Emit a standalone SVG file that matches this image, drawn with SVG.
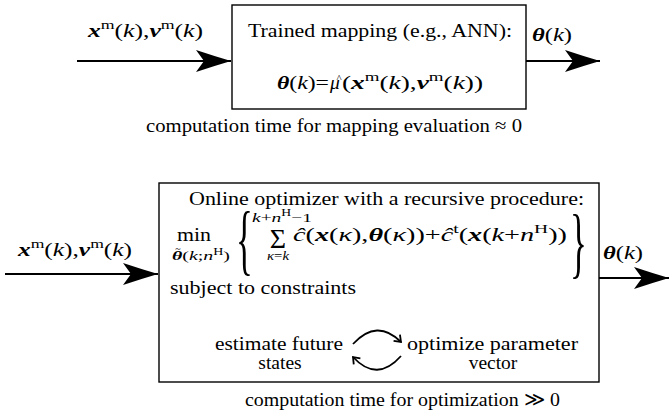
<svg xmlns="http://www.w3.org/2000/svg" width="669" height="412" viewBox="0 0 669 412" font-size="19.5">
<defs>
<marker id="big" markerUnits="userSpaceOnUse" markerWidth="40" markerHeight="26" refX="0" refY="0" viewBox="-38 -13 40 26" orient="auto" overflow="visible">
<path d="M0,0 Q-17,-5 -35,-11 L-27,0 L-35,11 Q-17,5 0,0 Z" fill="#000"/>
</marker>
<marker id="chev" markerUnits="userSpaceOnUse" markerWidth="12" markerHeight="12" viewBox="-8 -6 10 12" refX="0" refY="0" orient="auto" overflow="visible">
<path d="M-6,-4.5 L0,0 L-6,4.5" fill="none" stroke="#000" stroke-width="1.8"/>
</marker>
</defs>

<g id="connectors" stroke="#000" stroke-width="1.8" fill="none">
<line x1="77" y1="61" x2="231" y2="61" marker-end="url(#big)"/>
<line x1="526" y1="61" x2="600" y2="61" marker-end="url(#big)"/>
<line x1="5" y1="274" x2="158" y2="274" marker-end="url(#big)"/>
<line x1="599" y1="278" x2="669" y2="278" marker-end="url(#big)"/>
</g>

<g id="mapping">
<rect x="232" y="5" width="294" height="104" fill="#fff" stroke="#000" stroke-width="1.4"/>
<text font-family="Liberation Serif" x="248" y="37" textLength="264" lengthAdjust="spacingAndGlyphs">Trained mapping (e.g., ANN):</text>
<text font-family="Liberation Serif" x="277" y="89" textLength="52" lengthAdjust="spacingAndGlyphs"><tspan font-style="italic" font-weight="bold">θ</tspan>(<tspan font-style="italic">k</tspan>)=</text>
<text font-family="Liberation Serif" x="330" y="89" font-style="italic">μ</text>
<text font-family="Liberation Serif" x="339" y="82" font-size="11" text-anchor="middle">^</text>
<text font-family="Liberation Serif" x="342" y="89" textLength="141" lengthAdjust="spacingAndGlyphs">(<tspan font-style="italic" font-weight="bold">x</tspan><tspan font-size="13.5" dy="-8">m</tspan><tspan dy="8">(</tspan><tspan font-style="italic">k</tspan>),<tspan font-style="italic" font-weight="bold">ν</tspan><tspan font-size="13.5" dy="-8">m</tspan><tspan dy="8">(</tspan><tspan font-style="italic">k</tspan>))</text>
</g>

<g id="mapping-labels">
<text font-family="Liberation Serif" x="88" y="37" textLength="115" lengthAdjust="spacingAndGlyphs"><tspan font-style="italic" font-weight="bold">x</tspan><tspan font-size="13.5" dy="-8">m</tspan><tspan dy="8">(</tspan><tspan font-style="italic">k</tspan>),<tspan font-style="italic" font-weight="bold">ν</tspan><tspan font-size="13.5" dy="-8">m</tspan><tspan dy="8">(</tspan><tspan font-style="italic">k</tspan>)</text>
<text font-family="Liberation Serif" x="532" y="41" textLength="40" lengthAdjust="spacingAndGlyphs"><tspan font-style="italic" font-weight="bold">θ</tspan>(<tspan font-style="italic">k</tspan>)</text>
<text font-family="Liberation Serif" x="146" y="132" textLength="376" lengthAdjust="spacingAndGlyphs">computation time for mapping evaluation ≈ 0</text>
</g>

<g id="optimizer">
<rect x="159" y="183" width="440" height="199" fill="#fff" stroke="#000" stroke-width="1.4"/>
<text font-family="Liberation Serif" x="189" y="205" textLength="395" lengthAdjust="spacingAndGlyphs">Online optimizer with a recursive procedure:</text>
<text font-family="Liberation Serif" x="177" y="241" textLength="34" lengthAdjust="spacingAndGlyphs">min</text>
<text font-family="Liberation Serif" x="172" y="260" font-size="13.5" textLength="58" lengthAdjust="spacingAndGlyphs"><tspan font-style="italic" font-weight="bold">θ</tspan>(<tspan font-style="italic">k</tspan>;<tspan font-style="italic">n</tspan><tspan dy="-5" font-size="9.5">H</tspan><tspan dy="5">)</tspan></text>
<text font-family="Liberation Serif" x="178" y="252" font-size="10" text-anchor="middle">~</text>
<text font-family="Liberation Serif" font-size="78" transform="translate(236,266) scale(0.45,1)">{</text>
<text font-family="Liberation Serif" x="252" y="222" font-size="13.5" textLength="60" lengthAdjust="spacingAndGlyphs"><tspan font-style="italic">k</tspan>+<tspan font-style="italic">n</tspan><tspan dy="-6" font-size="9.5">H</tspan><tspan dy="6">−1</tspan></text>
<text font-family="Liberation Serif" x="278" y="248" font-size="28" text-anchor="middle">Σ</text>
<text font-family="Liberation Serif" x="267" y="260" font-size="13.5" textLength="22" lengthAdjust="spacingAndGlyphs"><tspan font-style="italic">κ</tspan>=<tspan font-style="italic">k</tspan></text>
<text font-family="Liberation Serif" x="293" y="241" textLength="274" lengthAdjust="spacingAndGlyphs"><tspan font-style="italic">ĉ</tspan>(<tspan font-style="italic" font-weight="bold">x</tspan>(<tspan font-style="italic">κ</tspan>),<tspan font-style="italic" font-weight="bold">θ</tspan>(<tspan font-style="italic">κ</tspan>))+<tspan font-style="italic">ĉ</tspan><tspan font-size="13.5" dy="-8">t</tspan><tspan dy="8">(</tspan><tspan font-style="italic" font-weight="bold">x</tspan>(<tspan font-style="italic">k</tspan>+<tspan font-style="italic">n</tspan><tspan font-size="13.5" dy="-8">H</tspan><tspan dy="8">))</tspan></text>
<text font-family="Liberation Serif" font-size="78" transform="translate(570,269) scale(0.45,1)">}</text>
<text font-family="Liberation Serif" x="170" y="294" textLength="186" lengthAdjust="spacingAndGlyphs">subject to constraints</text>
<text font-family="Liberation Serif" x="215" y="350" textLength="128" lengthAdjust="spacingAndGlyphs">estimate future</text>
<text font-family="Liberation Serif" x="280" y="369" text-anchor="middle">states</text>
<text font-family="Liberation Serif" x="407" y="350" textLength="171" lengthAdjust="spacingAndGlyphs">optimize parameter</text>
<text font-family="Liberation Serif" x="493" y="369" text-anchor="middle">vector</text>
<path d="M353,344 Q377,318 401,342" stroke="#000" stroke-width="1.8" fill="none" marker-end="url(#chev)"/>
<path d="M401,356 Q377,383 353,357" stroke="#000" stroke-width="1.8" fill="none" marker-end="url(#chev)"/>
</g>

<g id="optimizer-labels">
<text font-family="Liberation Serif" x="18" y="256" textLength="114" lengthAdjust="spacingAndGlyphs"><tspan font-style="italic" font-weight="bold">x</tspan><tspan font-size="13.5" dy="-8">m</tspan><tspan dy="8">(</tspan><tspan font-style="italic">k</tspan>),<tspan font-style="italic" font-weight="bold">ν</tspan><tspan font-size="13.5" dy="-8">m</tspan><tspan dy="8">(</tspan><tspan font-style="italic">k</tspan>)</text>
<text font-family="Liberation Serif" x="603" y="259" textLength="40" lengthAdjust="spacingAndGlyphs"><tspan font-style="italic" font-weight="bold">θ</tspan>(<tspan font-style="italic">k</tspan>)</text>
<text font-family="Liberation Serif" x="245" y="406" textLength="315" lengthAdjust="spacingAndGlyphs">computation time for optimization ≫ 0</text>
</g>
</svg>
